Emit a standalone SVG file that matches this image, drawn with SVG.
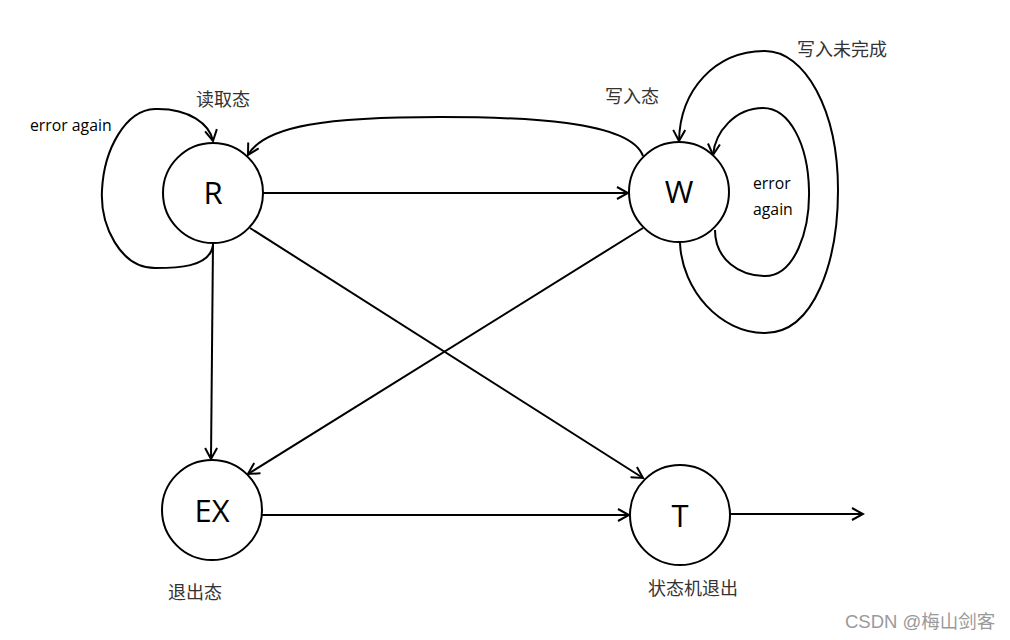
<svg xmlns="http://www.w3.org/2000/svg" width="1010" height="640" viewBox="0 0 1010 640">
<style>
.node{fill:#fff;stroke:#000;stroke-width:2}
.lbl{font-family:"Open Sans","Liberation Sans",sans-serif;font-size:31px;fill:#000;text-anchor:middle}
.en{font-family:"Open Sans","Liberation Sans",sans-serif;font-size:15.8px;fill:#000}
.cn{font-family:"Noto Sans CJK SC",sans-serif;font-size:18px;fill:#333}
.wm{font-family:"Liberation Sans","Noto Sans CJK SC",sans-serif;font-size:18.5px;fill:#9a9a9a}
.edge{fill:none;stroke:#000;stroke-width:2;marker-end:url(#arr)}
</style>
<defs>
<marker id="arr" markerUnits="userSpaceOnUse" markerWidth="14" markerHeight="14" viewBox="0 0 14 14" refX="12" refY="7" orient="auto">
<path d="M1,1 L12,7 L1,13" fill="none" stroke="#000" stroke-width="2"/>
</marker>
</defs>
<rect width="1010" height="640" fill="#fff"/>
<g id="connectors">
<path class="edge" d="M263,193 L628,193"/>
<path class="edge" d="M643,156 C630,120 520,117 440,117 C330,117 265,125 248,155"/>
<path class="edge" d="M213,245 C210,268 175,268 155,268 C120,268 100,225 102,190 C104,150 125,110 155,109 C190,108 210,125 213,141"/>
<path class="edge" d="M715,230 C715,260 740,276 765,276 C795,276 810,230 809,190 C808,145 790,108 763,108 C735,108 715,132 713,155"/>
<path class="edge" d="M680,243 C682,290 720,333 765,333 C815,333 838,260 838,190 C838,110 805,51 765,51 C715,51 680,90 679,141"/>
<path class="edge" d="M213,243 L211,459"/>
<path class="edge" d="M250,228 L643,478"/>
<path class="edge" d="M643,228 L248,474"/>
<path class="edge" d="M262,515 L629,515"/>
<path class="edge" d="M730,514 L863,514"/>
</g>
<g id="node-R"><circle class="node" cx="213" cy="193" r="50"/><text class="lbl" x="213" y="204">R</text></g>
<g id="node-W"><circle class="node" cx="679" cy="192" r="50"/><text class="lbl" x="679" y="203">W</text></g>
<g id="node-EX"><circle class="node" cx="212" cy="510" r="50"/><text class="lbl" x="212" y="522">EX</text></g>
<g id="node-T"><circle class="node" cx="680" cy="515" r="50"/><text class="lbl" x="680" y="527">T</text></g>
<g id="labels">
<text class="en" x="30" y="131">error again</text>
<text class="en" x="753" y="189">error</text>
<text class="en" x="753" y="215">again</text>
<text class="cn" x="196" y="106">读取态</text>
<text class="cn" x="605" y="103">写入态</text>
<text class="cn" x="797" y="56">写入未完成</text>
<text class="cn" x="168" y="599">退出态</text>
<text class="cn" x="648" y="595">状态机退出</text>
<text class="wm" x="845" y="628">CSDN @梅山剑客</text>
</g>
</svg>
